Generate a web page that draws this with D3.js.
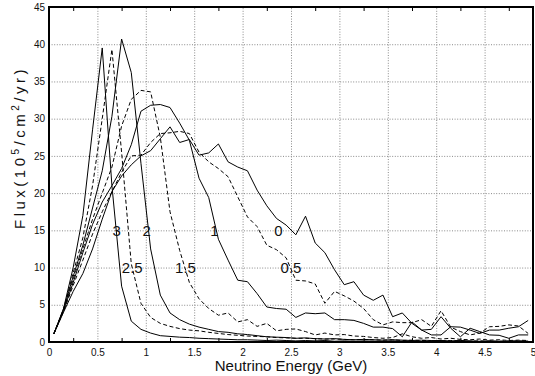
<!DOCTYPE html>
<html>
<head>
<meta charset="utf-8">
<script src="https://cdn.jsdelivr.net/npm/d3@7"></script>
<style>
  body { margin: 0; background: #fff; }
  svg { font-family: "Liberation Sans", Arial, sans-serif; }
</style>
</head>
<body>
<svg width="535" height="376"></svg>
<script>

// bin centres (GeV)
var energy = [0.05,0.15,0.25,0.35,0.45,0.55,0.65,0.75,0.85,0.95,
              1.05,1.15,1.25,1.35,1.45,1.55,1.65,1.75,1.85,1.95,
              2.05,2.15,2.25,2.35,2.45,2.55,2.65,2.75,2.85,2.95,
              3.05,3.15,3.25,3.35,3.45,3.55,3.65,3.75,3.85,3.95,
              4.05,4.15,4.25,4.35,4.45,4.55,4.65,4.75,4.85,4.95];

var flux0  = [1.1,4.0,6.8,9.2,12.5,16.5,20.2,22.3,23.8,25.0,
              25.7,27.3,28.9,26.8,27.2,25.1,25.4,26.6,24.2,23.5,
              23.0,20.4,18.3,16.6,15.7,14.4,16.9,13.3,12.0,9.7,
              7.7,8.1,6.3,5.6,6.3,3.4,3.9,2.5,1.6,1.7,
              3.4,1.85,0.7,1.85,1.4,0.95,0.9,0.5,0.95,0.95];
var flux05 = [1.1,4.1,7.6,11.0,14.5,17.5,20.2,22.8,25.0,25.1,
              26.8,28.0,28.1,28.3,28.0,25.5,24.2,23.3,22.2,19.5,
              16.8,15.5,13.0,12.4,11.3,8.3,8.2,7.8,5.2,6.8,
              6.2,5.5,4.5,3.0,2.3,2.7,2.6,2.6,3.0,2.1,
              4.2,2.0,1.4,0.95,1.2,2.05,2.1,2.3,2.15,1.15];
var flux1  = [1.1,4.2,8.0,12.0,15.8,18.8,21.0,23.3,26.5,31.0,
              31.8,31.9,31.5,29.4,27.1,22.0,19.4,13.8,11.0,8.3,
              8.1,6.5,4.7,4.5,4.4,3.3,3.9,3.8,3.9,3.0,
              3.0,2.9,2.5,2.0,2.0,1.8,0.7,2.7,1.6,0.95,
              0.95,2.05,2.0,1.6,1.15,1.6,1.6,1.85,2.05,2.9];
var flux15 = [1.1,4.3,8.4,12.5,16.5,20.0,23.5,29.0,32.6,33.8,
              33.6,27.5,17.5,12.3,8.0,5.8,4.5,3.6,3.9,2.7,
              3.0,2.1,2.5,1.5,1.7,1.75,1.4,0.95,1.2,0.95,
              1.0,0.8,0.75,0.6,0.5,0.6,1.1,0.7,0.5,0.6,
              0.4,0.5,0.35,0.3,0.4,0.25,0.3,0.2,0.25,0.2];
var flux2  = [1.1,4.4,8.8,13.0,18.0,23.0,30.3,40.7,36.2,24.0,
              12.5,6.3,3.9,3.0,2.4,2.0,1.7,1.4,1.3,1.1,
              1.0,0.85,0.7,0.65,0.6,0.5,0.55,0.45,0.4,0.45,
              0.35,0.3,0.35,0.3,0.25,0.3,0.25,0.2,0.25,0.2,
              0.2,0.15,0.2,0.15,0.1,0.15,0.1,0.1,0.15,0.1];
var flux25 = [1.1,4.4,9.3,14.0,21.0,30.0,39.3,25.5,10.5,5.2,
              3.3,2.5,2.1,1.8,1.6,1.5,1.3,1.15,1.0,0.9,
              0.8,0.75,0.7,0.6,0.55,0.5,0.5,0.45,0.4,0.4,
              0.35,0.3,0.35,0.3,0.25,0.3,0.2,0.25,0.2,0.2,
              0.15,0.2,0.15,0.1,0.15,0.1,0.1,0.15,0.1,0.1];
var flux3  = [1.1,4.5,10.0,17.0,28.5,39.5,21.0,7.5,2.8,1.7,
              1.2,0.85,0.75,0.65,0.6,0.5,0.45,0.4,0.35,0.3,
              0.3,0.25,0.2,0.25,0.2,0.15,0.2,0.15,0.2,0.1,
              0.15,0.1,0.15,0.1,0.1,0.15,0.1,0.1,0.05,0.1,
              0.1,0.05,0.1,0.05,0.05,0.1,0.05,0.05,0.1,0.05];

var curveNames  = ["0","0.5","1","1.5","2","2.5","3"];
var curveDashed = [false,true,false,true,false,true,false];
var curveFlux   = [flux0,flux05,flux1,flux15,flux2,flux25,flux3];

// where the gnuplot labels sit, in data units
var labelX = [2.37,2.50,1.71,1.41,1.01,0.86,0.70];
var labelY = [15,10,15,10,15,10,15];

var xTicks = [0,0.5,1,1.5,2,2.5,3,3.5,4,4.5,5];
var xMinor = [0.25,0.75,1.25,1.75,2.25,2.75,3.25,3.75,4.25,4.75];
var yTicks = [0,5,10,15,20,25,30,35,40,45];

function main(){
    var svg = d3.select("svg"),
        left = 49, top = 7,
        width = 484,
        height = 335;

    var xScale = d3.scaleLinear().domain([0,5]).range([0,width]),
        yScale = d3.scaleLinear().domain([0,45]).range([height,0]);

    var g = svg.append("g").attr("transform","translate("+left+","+top+")");

    // dotted grid
    g.append("g")
        .attr("class","grid")
        .attr("transform","translate(0,"+height+")")
        .call(d3.axisBottom(xScale).tickValues(xTicks.slice(1,-1)).tickSize(-height).tickFormat(""));
    g.append("g")
        .attr("class","grid")
        .call(d3.axisLeft(yScale).tickValues(yTicks.slice(1,-1)).tickSize(-width).tickFormat(""));
    g.selectAll(".grid .domain").remove();
    g.selectAll(".grid line")
        .attr("stroke","#8a8a8a")
        .attr("stroke-width",1)
        .attr("stroke-dasharray","1,1.6");

    // tick labels
    var xAxis = g.append("g")
        .attr("transform","translate(0,"+height+")")
        .call(d3.axisBottom(xScale).tickValues(xTicks).tickSize(0).tickPadding(7).tickFormat(function(d){return d;}));
    var yAxis = g.append("g")
        .call(d3.axisLeft(yScale).tickValues(yTicks).tickSize(0).tickPadding(4).tickFormat(function(d){return d;}));
    xAxis.select(".domain").remove();
    yAxis.select(".domain").remove();
    svg.selectAll("text").attr("font-size","10px").attr("fill","#111").attr("font-family","Liberation Sans, Arial, sans-serif");

    // minor ticks, pointing inward
    g.append("g")
        .attr("class","minor")
        .attr("transform","translate(0,"+height+")")
        .call(d3.axisBottom(xScale).tickValues(xMinor).tickSize(-4).tickFormat(""));
    g.append("g")
        .attr("class","minor")
        .call(d3.axisTop(xScale).tickValues(xMinor).tickSize(-4).tickFormat(""));
    g.selectAll(".minor .domain").remove();
    g.selectAll(".minor line").attr("stroke","#000");

    // curves
    var line = d3.line()
        .x(function(d,i){return xScale(energy[i]);})
        .y(function(d){return yScale(d);});

    g.selectAll(".curve").data(curveFlux)
        .enter().append("path")
        .attr("class","curve")
        .attr("d",function(d){return line(d);})
        .attr("fill","none")
        .attr("stroke","#000")
        .attr("stroke-width",1)
        .attr("stroke-dasharray",function(d,i){return curveDashed[i] ? "4,2.5" : null;});

    // curve labels
    g.selectAll(".clabel").data(curveNames)
        .enter().append("text")
        .attr("class","clabel")
        .attr("x",function(d,i){return xScale(labelX[i]);})
        .attr("y",function(d,i){return yScale(labelY[i]);})
        .attr("dy","0.36em")
        .attr("text-anchor","middle")
        .attr("font-size","15px")
        .attr("fill","#111")
        .text(function(d){return d;});

    // frame
    g.append("rect")
        .attr("x",0).attr("y",0)
        .attr("width",width).attr("height",height)
        .attr("fill","none")
        .attr("stroke","#000")
        .attr("stroke-width",2);

    // axis titles
    svg.append("text")
        .attr("x",left+width/2)
        .attr("y",371)
        .attr("text-anchor","middle")
        .attr("font-size","15px")
        .attr("fill","#111")
        .text("Neutrino Energy (GeV)");

    // y title is spread out in the original, from the 15 tick up to about 37
    var ylab = svg.append("text")
        .attr("transform","translate(25,229) rotate(-90)")
        .attr("text-anchor","start")
        .attr("font-size","15px")
        .attr("letter-spacing","3.5px")
        .attr("fill","#111");
    ylab.append("tspan").text("Flux(10");
    ylab.append("tspan").attr("dy","-6").attr("font-size","10px").text("5");
    ylab.append("tspan").attr("dy","6").text("/cm");
    ylab.append("tspan").attr("dy","-6").attr("font-size","10px").text("2");
    ylab.append("tspan").attr("dy","6").text("/yr)");
}

main();
</script>
</body>
</html>
